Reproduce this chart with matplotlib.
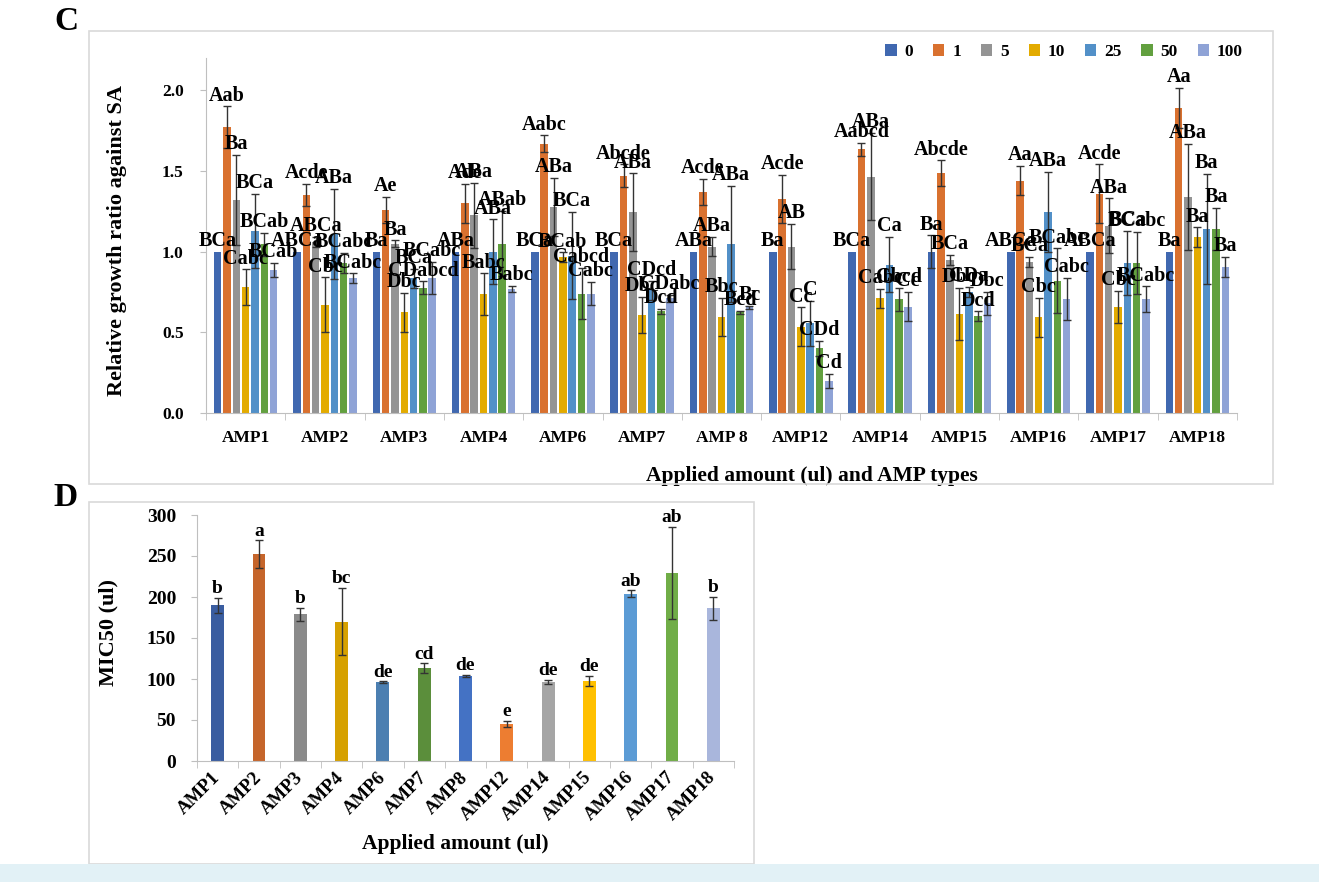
import matplotlib
matplotlib.use("Agg")
import matplotlib.pyplot as plt
from matplotlib.patches import Rectangle
from matplotlib.ticker import FixedLocator
import numpy as np

# ---------------- data: panel C ----------------
amps_c = ["AMP1", "AMP2", "AMP3", "AMP4", "AMP6", "AMP7", "AMP 8", "AMP12",
          "AMP14", "AMP15", "AMP16", "AMP17", "AMP18"]
doses = ["0", "1", "5", "10", "25", "50", "100"]

val_0 = [1.0, 1.0, 1.0, 1.0, 1.0, 1.0, 1.0, 1.0, 1.0, 1.0, 1.0, 1.0, 1.0]
val_1 = [1.77, 1.35, 1.26, 1.30, 1.67, 1.47, 1.37, 1.325, 1.635, 1.485, 1.44, 1.36, 1.89]
val_5 = [1.32, 1.06, 1.05, 1.225, 1.275, 1.245, 1.03, 1.03, 1.465, 0.95, 0.935, 1.16, 1.34]
val_10 = [0.78, 0.67, 0.625, 0.735, 0.965, 0.607, 0.595, 0.535, 0.71, 0.613, 0.594, 0.656, 1.09]
val_25 = [1.13, 1.11, 0.835, 1.0, 0.975, 0.76, 1.045, 0.557, 0.92, 0.75, 1.245, 0.93, 1.14]
val_50 = [1.045, 0.93, 0.775, 1.05, 0.74, 0.63, 0.625, 0.40, 0.705, 0.60, 0.82, 0.93, 1.14]
val_100 = [0.885, 0.835, 0.835, 0.77, 0.74, 0.71, 0.655, 0.198, 0.66, 0.68, 0.705, 0.705, 0.905]

err_0 = [0, 0, 0, 0, 0, 0, 0, 0, 0, 0.1, 0, 0, 0]
err_1 = [0.13, 0.07, 0.08, 0.12, 0.05, 0.07, 0.08, 0.15, 0.04, 0.08, 0.09, 0.18, 0.125]
err_5 = [0.28, 0.03, 0.02, 0.2, 0.18, 0.24, 0.06, 0.14, 0.27, 0.03, 0.03, 0.17, 0.33]
err_10 = [0.11, 0.17, 0.12, 0.13, 0.03, 0.11, 0.12, 0.12, 0.06, 0.16, 0.12, 0.1, 0.06]
err_25 = [0.23, 0.28, 0.06, 0.2, 0.27, 0.06, 0.36, 0.14, 0.17, 0.03, 0.25, 0.2, 0.34]
err_50 = [0.07, 0.06, 0.04, 0.2, 0.16, 0.015, 0.01, 0.045, 0.07, 0.03, 0.2, 0.19, 0.13]
err_100 = [0.045, 0.03, 0.1, 0.02, 0.07, 0.02, 0.01, 0.045, 0.09, 0.07, 0.13, 0.08, 0.06]

lab_0 = ["BCa", "ABCa", "Ba", "ABa", "BCa", "BCa", "ABa", "Ba", "BCa", "Ba", "ABCa", "ABCa", "Ba"]
lab_1 = ["Aab", "Acde", "Ae", "Ade", "Aabc", "Abcde", "Acde", "Acde", "Aabcd", "Abcde", "Aa", "Acde", "Aa"]
lab_5 = ["Ba", "ABCa", "Ba", "ABa", "ABa", "ABa", "ABa", "AB", "ABa", "BCa", "BCa", "ABa", "ABa"]
lab_10 = ["Cabc", "Cbc", "Dbc", "Babc", "BCab", "Dbc", "Bbc", "Cc", "Cabc", "Dbc", "Cbc", "Cbc", "Ba"]
lab_25 = ["BCa", "ABa", "BCa", "ABa", "BCa", "CDcd", "ABa", "C", "Ca", "CDa", "ABa", "BCa", "Ba"]
lab_50 = ["BCab", "BCabc", "CDabcd", "ABab", "Cabcd", "Dcd", "Bcd", "CDd", "Cbcd", "Dcd", "BCabc", "BCabc", "Ba"]
lab_100 = ["BCab", "BCabc", "BCabc", "Babc", "Cabc", "CDabc", "Bc", "Cd", "Cc", "Dbc", "Cabc", "BCabc", "Ba"]

# ---------------- data: panel D ----------------
amps_d = ["AMP1", "AMP2", "AMP3", "AMP4", "AMP6", "AMP7", "AMP8", "AMP12",
          "AMP14", "AMP15", "AMP16", "AMP17", "AMP18"]
mic50 = [190, 252, 179, 170, 96, 113, 104, 45, 96, 98, 204, 229, 186]
mic50_err = [9, 17, 8, 41, 1, 6, 1, 4, 2.5, 6, 4, 56, 14.5]
mic50_lab = ["b", "a", "b", "bc", "de", "cd", "de", "e", "de", "de", "ab", "ab", "b"]

# ---------------- style ----------------
plt.rcParams["font.family"] = ["Liberation Serif", "DejaVu Serif"]
plt.rcParams["font.weight"] = "bold"
plt.rcParams["axes.labelweight"] = "bold"

dose_colors = ["#4068B0", "#D9712F", "#949494", "#E3AB00", "#5290C8", "#62A03F", "#8FA3D6"]
d_colors = ["#3A5DA0", "#C5652B", "#8A8A8A", "#D6A100", "#4C7FB1", "#5B8E3B", "#4472C4",
            "#ED7D31", "#A5A5A5", "#FFC000", "#5B9BD5", "#70AD47", "#A9B6DC"]
spine_c = "#BFBFBF"
err_c = "#333333"

W, H = 1319, 882
fig = plt.figure(figsize=(W / 100, H / 100), dpi=100)

def fx(px):
    return px / W

def fy(py):
    return 1 - py / H

# outer frames and bottom stripe
fig.patches.append(Rectangle((fx(89), fy(484)), fx(1273 - 89), (484 - 31) / H,
                             transform=fig.transFigure, fill=False, edgecolor="#D9D9D9", lw=1.2))
fig.patches.append(Rectangle((fx(89), fy(864)), fx(754 - 89), (864 - 502) / H,
                             transform=fig.transFigure, fill=False, edgecolor="#D9D9D9", lw=1.2))
fig.patches.append(Rectangle((0, 0), 1, (882 - 864) / H, transform=fig.transFigure,
                             facecolor="#E2F1F6", edgecolor="none"))
fig.text(fx(66), fy(22), "C", fontsize=24, fontweight="bold", ha="center", va="center")
fig.text(fx(66), fy(497), "D", fontsize=24, fontweight="bold", ha="center", va="center")

# ---------------- panel C ----------------
axc = fig.add_axes([fx(206), fy(413), fx(1237 - 206), (413 - 58) / H])
vals = [val_0, val_1, val_5, val_10, val_25, val_50, val_100]
errs = [err_0, err_1, err_5, err_10, err_25, err_50, err_100]
labs = [lab_0, lab_1, lab_5, lab_10, lab_25, lab_50, lab_100]
x = np.arange(len(amps_c))
slot = 0.1174
bw = 0.095
for i, d in enumerate(doses):
    xs = x + (i - 3) * slot
    axc.bar(xs, vals[i], width=bw, color=dose_colors[i], label=d, zorder=2)
    e = np.array(errs[i])
    m = e > 0
    axc.errorbar(xs[m], np.array(vals[i])[m], yerr=e[m], fmt="none", ecolor=err_c,
                 elinewidth=1.0, capsize=3, capthick=1.0, zorder=3)
    for xi, v, ee, t in zip(xs, vals[i], errs[i], labs[i]):
        axc.text(xi, v + ee + 0.005, t, ha="center", va="bottom", fontsize=14.5,
                 fontweight="bold", zorder=4)

axc.set_xlim(-0.5, len(amps_c) - 0.5)
axc.set_ylim(0, 2.2)
axc.set_yticks([0.0, 0.5, 1.0, 1.5, 2.0])
axc.set_yticklabels([f"{t:.1f}" for t in [0.0, 0.5, 1.0, 1.5, 2.0]])
axc.set_xticks(x)
axc.set_xticklabels(amps_c)
axc.xaxis.set_minor_locator(FixedLocator(np.arange(len(amps_c) + 1) - 0.5))
axc.tick_params(axis="x", which="major", length=0, pad=12, labelsize=12.5)
axc.tick_params(axis="x", which="minor", length=5, color=spine_c, direction="out")
axc.tick_params(axis="y", length=4, color=spine_c, pad=12, labelsize=12.5)
for s in ["top", "right"]:
    axc.spines[s].set_visible(False)
for s in ["left", "bottom"]:
    axc.spines[s].set_color(spine_c)
axc.set_ylabel("Relative growth ratio against SA", fontsize=16, fontweight="bold", va="center")
axc.yaxis.set_label_coords((117 - 206) / (1237 - 206), (413 - 240) / (413 - 58))
axc.set_xlabel("Applied amount (ul) and AMP types", fontsize=15.5, fontweight="bold", va="center")
axc.xaxis.set_label_coords((812 - 206) / (1237 - 206), (413 - 476) / (413 - 58))
axc.legend(loc="center right", bbox_to_anchor=(fx(1255), fy(52)), bbox_transform=fig.transFigure,
           ncol=7, frameon=False, handlelength=0.65, handleheight=0.65, handletextpad=0.45,
           columnspacing=1.15, borderpad=0.2, prop={"size": 12.5, "weight": "bold"})

# ---------------- panel D ----------------
axd = fig.add_axes([fx(197), fy(761), fx(734 - 197), (761 - 515) / H])
xd = np.arange(len(amps_d))
axd.bar(xd, mic50, width=0.31, color=d_colors, zorder=2)
axd.errorbar(xd, mic50, yerr=mic50_err, fmt="none", ecolor=err_c, elinewidth=1.0,
             capsize=3, capthick=1.0, zorder=3)
for xi, v, ee, t in zip(xd, mic50, mic50_err, mic50_lab):
    axd.text(xi, v + ee + 1.0, t, ha="center", va="bottom", fontsize=14, fontweight="bold")
axd.set_xlim(-0.5, len(amps_d) - 0.5)
axd.set_ylim(0, 300)
axd.set_yticks(range(0, 301, 50))
axd.set_xticks(xd)
axd.set_xticklabels(amps_d, rotation=45, ha="right", va="center", rotation_mode="anchor")
axd.xaxis.set_minor_locator(FixedLocator(np.arange(len(amps_d) + 1) - 0.5))
axd.tick_params(axis="x", which="major", length=0, pad=10, labelsize=13.5)
axd.tick_params(axis="x", which="minor", length=5, color=spine_c, direction="out")
axd.tick_params(axis="y", length=4, color=spine_c, pad=11, labelsize=14)
for s in ["top", "right"]:
    axd.spines[s].set_visible(False)
for s in ["left", "bottom"]:
    axd.spines[s].set_color(spine_c)
axd.set_ylabel("MIC50 (ul)", fontsize=16, fontweight="bold", va="center")
axd.yaxis.set_label_coords((108 - 197) / (734 - 197), (761 - 632) / (761 - 515))
axd.set_xlabel("Applied amount (ul)", fontsize=15.5, fontweight="bold", va="center")
axd.xaxis.set_label_coords((455 - 197) / (734 - 197), (761 - 844) / (761 - 515))

fig.savefig("out.png", dpi=100)
